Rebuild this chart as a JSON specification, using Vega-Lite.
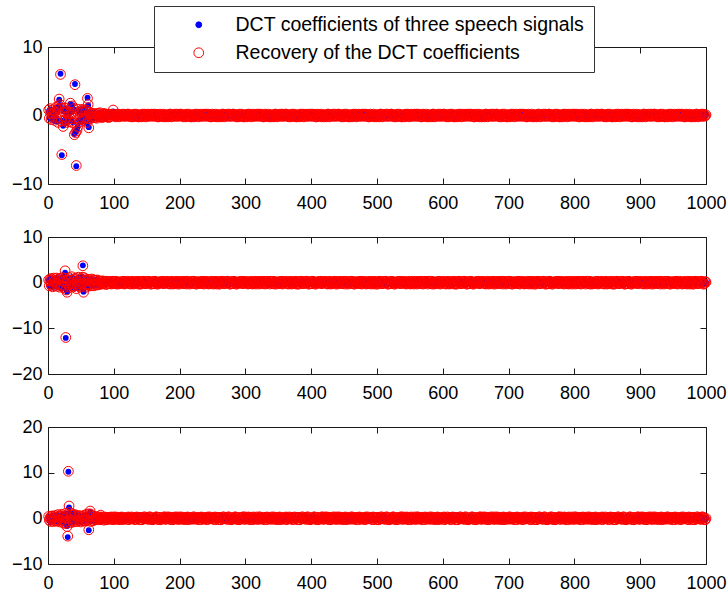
{
"$schema":"https://vega.github.io/schema/vega-lite/v6.json",
"background":"white",
"padding":{"left":10,"top":5,"right":0,"bottom":0},
"spacing":53,
"bounds":"flush",
"data":{"format":{"type":"csv","parse":{"x":"number","s1":"number","r1":"number","s2":"number","r2":"number","s3":"number","r3":"number"}},
"values":"x,s1,r1,s2,r2,s3,r3\n1,0.6,0.8,0.5,0.6,0.3,0.4\n2,-0.3,-0.4,-0.8,-0.7,-0.5,-0.4\n3,0.9,1.0,0.3,0.4,0.2,0.1\n4,0.2,0.3,1.0,0.9,-0.8,-0.7\n5,-0.5,-0.6,-0.4,-0.5,0.4,0.5\n6,0.4,0.3,0.7,0.8,-0.3,-0.2\n7,0.7,0.8,-1.0,-0.9,0.6,0.5\n8,-0.2,-0.1,0.2,0.1,-0.6,-0.7\n9,0.3,0.4,0.9,1.0,0.2,0.3\n10,-0.8,-0.7,-0.6,-0.7,-0.4,-0.5\n11,0.5,0.6,0.4,0.5,0.5,0.6\n12,1.1,1.2,-0.3,-0.2,-0.7,-0.6\n13,-0.4,-0.3,1.1,1.0,0.3,0.2\n14,0.8,0.9,-0.9,-0.8,-0.5,-0.6\n15,-0.9,-1.0,0.6,0.7,0.7,0.8\n16,1.3,1.4,-0.2,-0.3,-0.2,-0.3\n17,2.3,2.4,0.8,0.9,0.4,0.5\n18,1.5,1.6,-1.1,-1.0,-0.9,-0.8\n19,6.1,6.0,0.3,0.4,0.6,0.5\n20,-0.7,-0.8,-0.5,-0.6,-0.3,-0.4\n21,-5.8,-5.7,1.2,1.1,0.8,0.9\n22,0.9,1.0,-0.7,-0.8,-0.6,-0.5\n23,-1.5,-1.6,0.5,0.4,0.5,0.4\n24,0.6,0.5,-1.2,-1.1,-1.0,-1.1\n25,-0.9,-0.8,0.9,1.0,0.7,0.6\n26,1.0,1.1,2.2,2.6,-0.8,-0.9\n27,-0.5,-0.6,-12.1,-12.0,1.0,1.1\n28,0.3,0.4,-1.5,-1.6,-1.2,-1.1\n29,-1.1,-1.0,-2.0,-2.1,-1.7,-1.8\n30,0.7,0.6,0.8,0.7,-4.1,-3.9\n31,-0.4,-0.5,-0.4,-0.5,10.2,10.3\n32,0.2,0.3,1.0,1.1,2.4,2.7\n33,-0.8,-0.9,-0.9,-1.0,1.2,1.3\n34,1.7,1.8,0.6,0.5,-0.9,-1.0\n35,-0.6,-0.5,-0.3,-0.2,0.8,0.7\n36,0.5,0.4,1.2,1.3,-0.5,-0.6\n37,1.5,1.4,-0.6,-0.7,1.1,1.0\n38,-1.0,-1.1,0.4,0.5,-0.7,-0.8\n39,0.9,1.0,-1.0,-0.9,0.6,0.7\n40,-2.7,-2.8,0.7,0.8,-0.4,-0.3\n41,4.6,4.5,-0.5,-0.4,0.9,0.8\n42,-2.4,-2.5,0.9,1.0,-0.6,-0.7\n43,-7.4,-7.3,-1.2,-1.3,0.5,0.6\n44,-2.1,-2.2,0.3,0.2,-0.8,-0.7\n45,-1.6,-1.7,-0.8,-0.7,0.3,0.4\n46,0.8,0.9,1.1,1.2,-0.5,-0.4\n47,-0.7,-0.6,-0.2,-0.3,0.7,0.6\n48,0.4,0.5,0.6,0.7,-0.3,-0.4\n49,-1.0,-0.9,-1.1,-1.0,0.4,0.5\n50,0.6,0.7,0.8,0.9,-0.9,-0.8\n51,-0.3,-0.4,-0.4,-0.3,0.2,0.3\n52,1.0,0.9,1.3,1.2,-0.6,-0.5\n53,-0.8,-0.7,3.8,3.7,0.5,0.4\n54,0.5,0.6,-2.0,-2.1,-0.4,-0.5\n55,-0.5,-0.4,1.0,1.1,0.6,0.7\n56,0.9,0.8,-0.7,-0.6,-0.7,-0.6\n57,-0.2,-0.3,0.5,0.6,0.3,0.2\n58,0.7,0.8,-0.9,-1.0,-0.5,-0.6\n59,-1.1,-1.0,0.3,0.4,0.8,0.9\n60,2.6,2.5,-0.6,-0.5,-0.4,-0.3\n61,1.5,1.6,0.8,0.7,0.6,0.5\n62,-1.7,-1.8,-0.4,-0.5,-2.6,-2.5\n63,0.4,0.5,0.6,0.7,0.9,1.0\n64,-0.6,-0.5,-0.8,-0.7,1.4,1.6\n65,0.3,0.2,0.4,0.3,-0.6,-0.7\n66,-0.4,-0.3,-0.5,-0.6,0.7,0.8\n67,0.2,0.3,0.7,0.8,-0.5,-0.4\n68,-0.3,-0.2,-0.3,-0.2,0.4,0.5\n69,0.4,0.3,0.5,0.6,-0.6,-0.5\n70,-0.2,-0.3,-0.6,-0.7,0.5,0.4\n71,0.3,0.2,0.4,0.5,-0.3,-0.2\n72,-0.4,-0.3,-0.5,-0.4,0.3,0.2\n73,0.1,0.2,0.6,0.5,-0.2,-0.3\n74,-0.3,-0.4,-0.3,-0.4,0.3,0.4\n75,0.2,0.3,0.5,0.6,-0.4,-0.3\n76,-0.2,-0.1,-0.4,-0.5,0.2,0.1\n77,0.4,0.3,0.3,0.4,-0.3,-0.2\n78,-0.1,-0.2,-0.5,-0.4,0.4,0.3\n79,0.3,0.4,0.4,0.3,-0.2,-0.3\n80,-0.3,-0.2,-0.3,-0.2,0.6,0.7\n81,0.2,0.1,0.3,0.2,-0.3,-0.2\n82,-0.2,-0.3,-0.2,-0.3,0.2,0.3\n83,0.3,0.2,0.3,0.4,-0.2,-0.1\n84,-0.1,-0.2,-0.3,-0.2,0.3,0.2\n85,0.2,0.3,0.2,0.3,-0.3,-0.4\n86,-0.3,-0.2,-0.2,-0.1,0.2,0.3\n87,0.1,0.2,0.3,0.2,-0.1,-0.2\n88,-0.2,-0.1,-0.3,-0.4,0.3,0.2\n89,0.3,0.2,0.2,0.3,-0.2,-0.3\n90,-0.1,-0.2,-0.2,-0.3,0.2,0.1\n91,0.2,0.1,0.3,0.2,-0.3,-0.2\n92,-0.2,-0.3,-0.1,-0.2,0.1,0.2\n93,0.1,0.2,0.2,0.3,-0.2,-0.1\n94,-0.1,-0.2,-0.3,-0.2,0.3,0.2\n95,0.2,0.1,0.2,0.1,-0.1,-0.2\n96,-0.2,-0.1,-0.2,-0.3,0.2,0.3\n97,0.1,0.2,0.1,0.2,-0.3,-0.2\n98,-0.1,0,-0.2,-0.1,0.1,0.2\n99,0.6,0.8,0.2,0.3,-0.2,-0.3\n100,0.1,0.1,0.3,0.3,0.3,0.3\n102,-0.1,-0.1,-0.1,-0.1,0,0\n104,0,0,-0.3,-0.3,-0.2,-0.2\n106,0.2,0.2,0.2,0.2,0.2,0.2\n108,-0.2,-0.2,0.1,0.1,-0.3,-0.3\n110,0.1,0.1,-0.2,-0.2,0.1,0.1\n112,0,0,0,0,0.3,0.3\n114,-0.1,-0.1,0.3,0.3,-0.1,-0.1\n116,0.2,0.2,-0.3,-0.3,-0.2,-0.2\n118,-0.1,-0.1,0.1,0.1,0,0\n120,-0.1,-0.1,0,0,-0.2,-0.2\n122,0.2,0.2,0.2,0.2,0.3,0.3\n124,0.1,0.1,-0.2,-0.2,0.1,0.1\n126,-0.2,-0.2,0.1,0.1,-0.1,-0.1\n128,0,0,0.3,0.3,0,0\n130,0.1,0.1,-0.3,-0.3,0.2,0.2\n132,-0.1,-0.1,0.2,0.2,-0.3,-0.3\n134,0.2,0.2,-0.1,-0.1,0.2,0.2\n136,0,0,0,0,0,0\n138,-0.2,-0.2,0.3,0.3,0.1,0.1\n140,0,0,-0.3,-0.3,0.2,0.2\n142,-0.2,-0.2,0.1,0.1,-0.3,-0.3\n144,0.2,0.2,0.3,0.3,0,0\n146,0.1,0.1,-0.1,-0.1,0.3,0.3\n148,-0.1,-0.1,-0.2,-0.2,-0.1,-0.1\n150,0,0,0.2,0.2,0.1,0.1\n152,0.2,0.2,0.3,0.3,-0.2,-0.2\n154,-0.1,-0.1,0,0,0.3,0.3\n156,0.1,0.1,-0.3,-0.3,0.1,0.1\n158,0,0,0.2,0.2,-0.3,-0.3\n160,0.2,0.2,-0.2,-0.2,-0.1,-0.1\n162,0,0,0.3,0.3,0.1,0.1\n164,-0.1,-0.1,0.1,0.1,0.3,0.3\n166,0.1,0.1,-0.3,-0.3,-0.2,-0.2\n168,-0.2,-0.2,0,0,0.2,0.2\n170,0.2,0.2,0.2,0.2,-0.3,-0.3\n172,-0.1,-0.1,-0.1,-0.1,0,0\n174,0,0,0.3,0.3,0.1,0.1\n176,-0.2,-0.2,-0.2,-0.2,0.3,0.3\n178,0.1,0.1,0.1,0.1,-0.2,-0.2\n180,0.1,0.1,0,0,-0.1,-0.1\n182,-0.1,-0.1,0.2,0.2,0.1,0.1\n184,0,0,-0.2,-0.2,0.3,0.3\n186,0.2,0.2,0.1,0.1,-0.2,-0.2\n188,-0.2,-0.2,0.3,0.3,0.2,0.2\n190,0.1,0.1,-0.3,-0.3,-0.3,-0.3\n192,0,0,0.2,0.2,0,0\n194,-0.1,-0.1,-0.1,-0.1,0.1,0.1\n196,0.2,0.2,0,0,0.3,0.3\n198,-0.1,-0.1,0.3,0.3,-0.2,-0.2\n200,-0.1,-0.1,-0.3,-0.3,0.3,0.3\n202,0.2,0.2,0.1,0.1,0,0\n204,0.1,0.1,0.3,0.3,-0.2,-0.2\n206,-0.2,-0.2,-0.1,-0.1,0.2,0.2\n208,0,0,-0.2,-0.2,-0.3,-0.3\n210,0.1,0.1,0.2,0.2,0.1,0.1\n212,-0.1,-0.1,0.3,0.3,0.3,0.3\n214,0.2,0.2,0,0,-0.1,-0.1\n216,0,0,-0.3,-0.3,-0.2,-0.2\n218,-0.2,-0.2,0.2,0.2,0,0\n220,0,0,-0.2,-0.2,-0.2,-0.2\n222,-0.2,-0.2,0.3,0.3,0.3,0.3\n224,0.2,0.2,0.1,0.1,0.1,0.1\n226,0.1,0.1,-0.3,-0.3,-0.1,-0.1\n228,-0.1,-0.1,0,0,0,0\n230,0,0,0.2,0.2,0.2,0.2\n232,0.2,0.2,-0.1,-0.1,-0.3,-0.3\n234,-0.1,-0.1,0.3,0.3,0.2,0.2\n236,0.1,0.1,-0.2,-0.2,0,0\n238,0,0,0.1,0.1,0.1,0.1\n240,0.2,0.2,0.3,0.3,0.2,0.2\n242,0,0,-0.1,-0.1,-0.3,-0.3\n244,-0.1,-0.1,-0.3,-0.3,0,0\n246,0.1,0.1,0.2,0.2,0.3,0.3\n248,-0.2,-0.2,0.1,0.1,-0.1,-0.1\n250,0.2,0.2,-0.2,-0.2,0.1,0.1\n252,-0.1,-0.1,0,0,-0.2,-0.2\n254,0,0,0.3,0.3,0.3,0.3\n256,-0.2,-0.2,-0.3,-0.3,0.1,0.1\n258,0.1,0.1,0.1,0.1,-0.3,-0.3\n260,0.1,0.1,-0.3,-0.3,0.2,0.2\n262,-0.1,-0.1,0.1,0.1,-0.3,-0.3\n264,0,0,0.3,0.3,0,0\n266,0.2,0.2,-0.1,-0.1,0.3,0.3\n268,-0.2,-0.2,-0.2,-0.2,-0.1,-0.1\n270,0.1,0.1,0.2,0.2,0.1,0.1\n272,0,0,0.3,0.3,-0.2,-0.2\n274,-0.1,-0.1,0,0,0.3,0.3\n276,0.2,0.2,-0.3,-0.3,0.1,0.1\n278,-0.1,-0.1,0.2,0.2,-0.3,-0.3\n280,-0.1,-0.1,-0.2,-0.2,-0.1,-0.1\n282,0.2,0.2,0.3,0.3,0.1,0.1\n284,0.1,0.1,0.1,0.1,0.3,0.3\n286,-0.2,-0.2,-0.3,-0.3,-0.2,-0.2\n288,0,0,0,0,0.2,0.2\n290,0.1,0.1,0.2,0.2,-0.3,-0.3\n292,-0.1,-0.1,-0.1,-0.1,0,0\n294,0.2,0.2,0.3,0.3,0.1,0.1\n296,0,0,-0.2,-0.2,0.3,0.3\n298,-0.2,-0.2,0.1,0.1,-0.2,-0.2\n300,0,0,0.3,0.3,0.3,0.3\n302,-0.2,-0.2,-0.1,-0.1,0,0\n304,0.2,0.2,-0.3,-0.3,-0.2,-0.2\n306,0.1,0.1,0.2,0.2,0.2,0.2\n308,-0.1,-0.1,0.1,0.1,-0.3,-0.3\n310,0,0,-0.2,-0.2,0.1,0.1\n312,0.2,0.2,0,0,0.3,0.3\n314,-0.1,-0.1,0.3,0.3,-0.1,-0.1\n316,0.1,0.1,-0.3,-0.3,-0.2,-0.2\n318,0,0,0.1,0.1,0,0\n320,0.2,0.2,0,0,-0.2,-0.2\n322,0,0,0.2,0.2,0.3,0.3\n324,-0.1,-0.1,-0.2,-0.2,0.1,0.1\n326,0.1,0.1,0.1,0.1,-0.1,-0.1\n328,-0.2,-0.2,0.3,0.3,0,0\n330,0.2,0.2,-0.3,-0.3,0.2,0.2\n332,-0.1,-0.1,0.2,0.2,-0.3,-0.3\n334,0,0,-0.1,-0.1,0.2,0.2\n336,-0.2,-0.2,0,0,0,0\n338,0.1,0.1,0.3,0.3,0.1,0.1\n340,0.1,0.1,0.3,0.3,0.3,0.3\n342,-0.1,-0.1,-0.1,-0.1,0,0\n344,0,0,-0.3,-0.3,-0.2,-0.2\n346,0.2,0.2,0.2,0.2,0.2,0.2\n348,-0.2,-0.2,0.1,0.1,-0.3,-0.3\n350,0.1,0.1,-0.2,-0.2,0.1,0.1\n352,0,0,0,0,0.3,0.3\n354,-0.1,-0.1,0.3,0.3,-0.1,-0.1\n356,0.2,0.2,-0.3,-0.3,-0.2,-0.2\n358,-0.1,-0.1,0.1,0.1,0,0\n360,-0.1,-0.1,0,0,-0.2,-0.2\n362,0.2,0.2,0.2,0.2,0.3,0.3\n364,0.1,0.1,-0.2,-0.2,0.1,0.1\n366,-0.2,-0.2,0.1,0.1,-0.1,-0.1\n368,0,0,0.3,0.3,0,0\n370,0.1,0.1,-0.3,-0.3,0.2,0.2\n372,-0.1,-0.1,0.2,0.2,-0.3,-0.3\n374,0.2,0.2,-0.1,-0.1,0.2,0.2\n376,0,0,0,0,0,0\n378,-0.2,-0.2,0.3,0.3,0.1,0.1\n380,0,0,-0.3,-0.3,0.2,0.2\n382,-0.2,-0.2,0.1,0.1,-0.3,-0.3\n384,0.2,0.2,0.3,0.3,0,0\n386,0.1,0.1,-0.1,-0.1,0.3,0.3\n388,-0.1,-0.1,-0.2,-0.2,-0.1,-0.1\n390,0,0,0.2,0.2,0.1,0.1\n392,0.2,0.2,0.3,0.3,-0.2,-0.2\n394,-0.1,-0.1,0,0,0.3,0.3\n396,0.1,0.1,-0.3,-0.3,0.1,0.1\n398,0,0,0.2,0.2,-0.3,-0.3\n400,0.2,0.2,-0.2,-0.2,-0.1,-0.1\n402,0,0,0.3,0.3,0.1,0.1\n404,-0.1,-0.1,0.1,0.1,0.3,0.3\n406,0.1,0.1,-0.3,-0.3,-0.2,-0.2\n408,-0.2,-0.2,0,0,0.2,0.2\n410,0.2,0.2,0.2,0.2,-0.3,-0.3\n412,-0.1,-0.1,-0.1,-0.1,0,0\n414,0,0,0.3,0.3,0.1,0.1\n416,-0.2,-0.2,-0.2,-0.2,0.3,0.3\n418,0.1,0.1,0.1,0.1,-0.2,-0.2\n420,0.1,0.1,0,0,-0.1,-0.1\n422,-0.1,-0.1,0.2,0.2,0.1,0.1\n424,0,0,-0.2,-0.2,0.3,0.3\n426,0.2,0.2,0.1,0.1,-0.2,-0.2\n428,-0.2,-0.2,0.3,0.3,0.2,0.2\n430,0.1,0.1,-0.3,-0.3,-0.3,-0.3\n432,0,0,0.2,0.2,0,0\n434,-0.1,-0.1,-0.1,-0.1,0.1,0.1\n436,0.2,0.2,0,0,0.3,0.3\n438,-0.1,-0.1,0.3,0.3,-0.2,-0.2\n440,-0.1,-0.1,-0.3,-0.3,0.3,0.3\n442,0.2,0.2,0.1,0.1,0,0\n444,0.1,0.1,0.3,0.3,-0.2,-0.2\n446,-0.2,-0.2,-0.1,-0.1,0.2,0.2\n448,0,0,-0.2,-0.2,-0.3,-0.3\n450,0.1,0.1,0.2,0.2,0.1,0.1\n452,-0.1,-0.1,0.3,0.3,0.3,0.3\n454,0.2,0.2,0,0,-0.1,-0.1\n456,0,0,-0.3,-0.3,-0.2,-0.2\n458,-0.2,-0.2,0.2,0.2,0,0\n460,0,0,-0.2,-0.2,-0.2,-0.2\n462,-0.2,-0.2,0.3,0.3,0.3,0.3\n464,0.2,0.2,0.1,0.1,0.1,0.1\n466,0.1,0.1,-0.3,-0.3,-0.1,-0.1\n468,-0.1,-0.1,0,0,0,0\n470,0,0,0.2,0.2,0.2,0.2\n472,0.2,0.2,-0.1,-0.1,-0.3,-0.3\n474,-0.1,-0.1,0.3,0.3,0.2,0.2\n476,0.1,0.1,-0.2,-0.2,0,0\n478,0,0,0.1,0.1,0.1,0.1\n480,0.2,0.2,0.3,0.3,0.2,0.2\n482,0,0,-0.1,-0.1,-0.3,-0.3\n484,-0.1,-0.1,-0.3,-0.3,0,0\n486,0.1,0.1,0.2,0.2,0.3,0.3\n488,-0.2,-0.2,0.1,0.1,-0.1,-0.1\n490,0.2,0.2,-0.2,-0.2,0.1,0.1\n492,-0.1,-0.1,0,0,-0.2,-0.2\n494,0,0,0.3,0.3,0.3,0.3\n496,-0.2,-0.2,-0.3,-0.3,0.1,0.1\n498,0.1,0.1,0.1,0.1,-0.3,-0.3\n500,0.1,0.1,-0.3,-0.3,0.2,0.2\n502,-0.1,-0.1,0.1,0.1,-0.3,-0.3\n504,0,0,0.3,0.3,0,0\n506,0.2,0.2,-0.1,-0.1,0.3,0.3\n508,-0.2,-0.2,-0.2,-0.2,-0.1,-0.1\n510,0.1,0.1,0.2,0.2,0.1,0.1\n512,0,0,0.3,0.3,-0.2,-0.2\n514,-0.1,-0.1,0,0,0.3,0.3\n516,0.2,0.2,-0.3,-0.3,0.1,0.1\n518,-0.1,-0.1,0.2,0.2,-0.3,-0.3\n520,-0.1,-0.1,-0.2,-0.2,-0.1,-0.1\n522,0.2,0.2,0.3,0.3,0.1,0.1\n524,0.1,0.1,0.1,0.1,0.3,0.3\n526,-0.2,-0.2,-0.3,-0.3,-0.2,-0.2\n528,0,0,0,0,0.2,0.2\n530,0.1,0.1,0.2,0.2,-0.3,-0.3\n532,-0.1,-0.1,-0.1,-0.1,0,0\n534,0.2,0.2,0.3,0.3,0.1,0.1\n536,0,0,-0.2,-0.2,0.3,0.3\n538,-0.2,-0.2,0.1,0.1,-0.2,-0.2\n540,0,0,0.3,0.3,0.3,0.3\n542,-0.2,-0.2,-0.1,-0.1,0,0\n544,0.2,0.2,-0.3,-0.3,-0.2,-0.2\n546,0.1,0.1,0.2,0.2,0.2,0.2\n548,-0.1,-0.1,0.1,0.1,-0.3,-0.3\n550,0,0,-0.2,-0.2,0.1,0.1\n552,0.2,0.2,0,0,0.3,0.3\n554,-0.1,-0.1,0.3,0.3,-0.1,-0.1\n556,0.1,0.1,-0.3,-0.3,-0.2,-0.2\n558,0,0,0.1,0.1,0,0\n560,0.2,0.2,0,0,-0.2,-0.2\n562,0,0,0.2,0.2,0.3,0.3\n564,-0.1,-0.1,-0.2,-0.2,0.1,0.1\n566,0.1,0.1,0.1,0.1,-0.1,-0.1\n568,-0.2,-0.2,0.3,0.3,0,0\n570,0.2,0.2,-0.3,-0.3,0.2,0.2\n572,-0.1,-0.1,0.2,0.2,-0.3,-0.3\n574,0,0,-0.1,-0.1,0.2,0.2\n576,-0.2,-0.2,0,0,0,0\n578,0.1,0.1,0.3,0.3,0.1,0.1\n580,0.1,0.1,0.3,0.3,0.3,0.3\n582,-0.1,-0.1,-0.1,-0.1,0,0\n584,0,0,-0.3,-0.3,-0.2,-0.2\n586,0.2,0.2,0.2,0.2,0.2,0.2\n588,-0.2,-0.2,0.1,0.1,-0.3,-0.3\n590,0.1,0.1,-0.2,-0.2,0.1,0.1\n592,0,0,0,0,0.3,0.3\n594,-0.1,-0.1,0.3,0.3,-0.1,-0.1\n596,0.2,0.2,-0.3,-0.3,-0.2,-0.2\n598,-0.1,-0.1,0.1,0.1,0,0\n600,-0.1,-0.1,0,0,-0.2,-0.2\n602,0.2,0.2,0.2,0.2,0.3,0.3\n604,0.1,0.1,-0.2,-0.2,0.1,0.1\n606,-0.2,-0.2,0.1,0.1,-0.1,-0.1\n608,0,0,0.3,0.3,0,0\n610,0.1,0.1,-0.3,-0.3,0.2,0.2\n612,-0.1,-0.1,0.2,0.2,-0.3,-0.3\n614,0.2,0.2,-0.1,-0.1,0.2,0.2\n616,0,0,0,0,0,0\n618,-0.2,-0.2,0.3,0.3,0.1,0.1\n620,0,0,-0.3,-0.3,0.2,0.2\n622,-0.2,-0.2,0.1,0.1,-0.3,-0.3\n624,0.2,0.2,0.3,0.3,0,0\n626,0.1,0.1,-0.1,-0.1,0.3,0.3\n628,-0.1,-0.1,-0.2,-0.2,-0.1,-0.1\n630,0,0,0.2,0.2,0.1,0.1\n632,0.2,0.2,0.3,0.3,-0.2,-0.2\n634,-0.1,-0.1,0,0,0.3,0.3\n636,0.1,0.1,-0.3,-0.3,0.1,0.1\n638,0,0,0.2,0.2,-0.3,-0.3\n640,0.2,0.2,-0.2,-0.2,-0.1,-0.1\n642,0,0,0.3,0.3,0.1,0.1\n644,-0.1,-0.1,0.1,0.1,0.3,0.3\n646,0.1,0.1,-0.3,-0.3,-0.2,-0.2\n648,-0.2,-0.2,0,0,0.2,0.2\n650,0.2,0.2,0.2,0.2,-0.3,-0.3\n652,-0.1,-0.1,-0.1,-0.1,0,0\n654,0,0,0.3,0.3,0.1,0.1\n656,-0.2,-0.2,-0.2,-0.2,0.3,0.3\n658,0.1,0.1,0.1,0.1,-0.2,-0.2\n660,0.1,0.1,0,0,-0.1,-0.1\n662,-0.1,-0.1,0.2,0.2,0.1,0.1\n664,0,0,-0.2,-0.2,0.3,0.3\n666,0.2,0.2,0.1,0.1,-0.2,-0.2\n668,-0.2,-0.2,0.3,0.3,0.2,0.2\n670,0.1,0.1,-0.3,-0.3,-0.3,-0.3\n672,0,0,0.2,0.2,0,0\n674,-0.1,-0.1,-0.1,-0.1,0.1,0.1\n676,0.2,0.2,0,0,0.3,0.3\n678,-0.1,-0.1,0.3,0.3,-0.2,-0.2\n680,-0.1,-0.1,-0.3,-0.3,0.3,0.3\n682,0.2,0.2,0.1,0.1,0,0\n684,0.1,0.1,0.3,0.3,-0.2,-0.2\n686,-0.2,-0.2,-0.1,-0.1,0.2,0.2\n688,0,0,-0.2,-0.2,-0.3,-0.3\n690,0.1,0.1,0.2,0.2,0.1,0.1\n692,-0.1,-0.1,0.3,0.3,0.3,0.3\n694,0.2,0.2,0,0,-0.1,-0.1\n696,0,0,-0.3,-0.3,-0.2,-0.2\n698,-0.2,-0.2,0.2,0.2,0,0\n700,0,0,-0.2,-0.2,-0.2,-0.2\n702,-0.2,-0.2,0.3,0.3,0.3,0.3\n704,0.2,0.2,0.1,0.1,0.1,0.1\n706,0.1,0.1,-0.3,-0.3,-0.1,-0.1\n708,-0.1,-0.1,0,0,0,0\n710,0,0,0.2,0.2,0.2,0.2\n712,0.2,0.2,-0.1,-0.1,-0.3,-0.3\n714,-0.1,-0.1,0.3,0.3,0.2,0.2\n716,0.1,0.1,-0.2,-0.2,0,0\n718,0,0,0.1,0.1,0.1,0.1\n720,0.2,0.2,0.3,0.3,0.2,0.2\n722,0,0,-0.1,-0.1,-0.3,-0.3\n724,-0.1,-0.1,-0.3,-0.3,0,0\n726,0.1,0.1,0.2,0.2,0.3,0.3\n728,-0.2,-0.2,0.1,0.1,-0.1,-0.1\n730,0.2,0.2,-0.2,-0.2,0.1,0.1\n732,-0.1,-0.1,0,0,-0.2,-0.2\n734,0,0,0.3,0.3,0.3,0.3\n736,-0.2,-0.2,-0.3,-0.3,0.1,0.1\n738,0.1,0.1,0.1,0.1,-0.3,-0.3\n740,0.1,0.1,-0.3,-0.3,0.2,0.2\n742,-0.1,-0.1,0.1,0.1,-0.3,-0.3\n744,0,0,0.3,0.3,0,0\n746,0.2,0.2,-0.1,-0.1,0.3,0.3\n748,-0.2,-0.2,-0.2,-0.2,-0.1,-0.1\n750,0.1,0.1,0.2,0.2,0.1,0.1\n752,0,0,0.3,0.3,-0.2,-0.2\n754,-0.1,-0.1,0,0,0.3,0.3\n756,0.2,0.2,-0.3,-0.3,0.1,0.1\n758,-0.1,-0.1,0.2,0.2,-0.3,-0.3\n760,-0.1,-0.1,-0.2,-0.2,-0.1,-0.1\n762,0.2,0.2,0.3,0.3,0.1,0.1\n764,0.1,0.1,0.1,0.1,0.3,0.3\n766,-0.2,-0.2,-0.3,-0.3,-0.2,-0.2\n768,0,0,0,0,0.2,0.2\n770,0.1,0.1,0.2,0.2,-0.3,-0.3\n772,-0.1,-0.1,-0.1,-0.1,0,0\n774,0.2,0.2,0.3,0.3,0.1,0.1\n776,0,0,-0.2,-0.2,0.3,0.3\n778,-0.2,-0.2,0.1,0.1,-0.2,-0.2\n780,0,0,0.3,0.3,0.3,0.3\n782,-0.2,-0.2,-0.1,-0.1,0,0\n784,0.2,0.2,-0.3,-0.3,-0.2,-0.2\n786,0.1,0.1,0.2,0.2,0.2,0.2\n788,-0.1,-0.1,0.1,0.1,-0.3,-0.3\n790,0,0,-0.2,-0.2,0.1,0.1\n792,0.2,0.2,0,0,0.3,0.3\n794,-0.1,-0.1,0.3,0.3,-0.1,-0.1\n796,0.1,0.1,-0.3,-0.3,-0.2,-0.2\n798,0,0,0.1,0.1,0,0\n800,0.2,0.2,0,0,-0.2,-0.2\n802,0,0,0.2,0.2,0.3,0.3\n804,-0.1,-0.1,-0.2,-0.2,0.1,0.1\n806,0.1,0.1,0.1,0.1,-0.1,-0.1\n808,-0.2,-0.2,0.3,0.3,0,0\n810,0.2,0.2,-0.3,-0.3,0.2,0.2\n812,-0.1,-0.1,0.2,0.2,-0.3,-0.3\n814,0,0,-0.1,-0.1,0.2,0.2\n816,-0.2,-0.2,0,0,0,0\n818,0.1,0.1,0.3,0.3,0.1,0.1\n820,0.1,0.1,0.3,0.3,0.3,0.3\n822,-0.1,-0.1,-0.1,-0.1,0,0\n824,0,0,-0.3,-0.3,-0.2,-0.2\n826,0.2,0.2,0.2,0.2,0.2,0.2\n828,-0.2,-0.2,0.1,0.1,-0.3,-0.3\n830,0.1,0.1,-0.2,-0.2,0.1,0.1\n832,0,0,0,0,0.3,0.3\n834,-0.1,-0.1,0.3,0.3,-0.1,-0.1\n836,0.2,0.2,-0.3,-0.3,-0.2,-0.2\n838,-0.1,-0.1,0.1,0.1,0,0\n840,-0.1,-0.1,0,0,-0.2,-0.2\n842,0.2,0.2,0.2,0.2,0.3,0.3\n844,0.1,0.1,-0.2,-0.2,0.1,0.1\n846,-0.2,-0.2,0.1,0.1,-0.1,-0.1\n848,0,0,0.3,0.3,0,0\n850,0.1,0.1,-0.3,-0.3,0.2,0.2\n852,-0.1,-0.1,0.2,0.2,-0.3,-0.3\n854,0.2,0.2,-0.1,-0.1,0.2,0.2\n856,0,0,0,0,0,0\n858,-0.2,-0.2,0.3,0.3,0.1,0.1\n860,0,0,-0.3,-0.3,0.2,0.2\n862,-0.2,-0.2,0.1,0.1,-0.3,-0.3\n864,0.2,0.2,0.3,0.3,0,0\n866,0.1,0.1,-0.1,-0.1,0.3,0.3\n868,-0.1,-0.1,-0.2,-0.2,-0.1,-0.1\n870,0,0,0.2,0.2,0.1,0.1\n872,0.2,0.2,0.3,0.3,-0.2,-0.2\n874,-0.1,-0.1,0,0,0.3,0.3\n876,0.1,0.1,-0.3,-0.3,0.1,0.1\n878,0,0,0.2,0.2,-0.3,-0.3\n880,0.2,0.2,-0.2,-0.2,-0.1,-0.1\n882,0,0,0.3,0.3,0.1,0.1\n884,-0.1,-0.1,0.1,0.1,0.3,0.3\n886,0.1,0.1,-0.3,-0.3,-0.2,-0.2\n888,-0.2,-0.2,0,0,0.2,0.2\n890,0.2,0.2,0.2,0.2,-0.3,-0.3\n892,-0.1,-0.1,-0.1,-0.1,0,0\n894,0,0,0.3,0.3,0.1,0.1\n896,-0.2,-0.2,-0.2,-0.2,0.3,0.3\n898,0.1,0.1,0.1,0.1,-0.2,-0.2\n900,0.1,0.1,0,0,-0.1,-0.1\n902,-0.1,-0.1,0.2,0.2,0.1,0.1\n904,0,0,-0.2,-0.2,0.3,0.3\n906,0.2,0.2,0.1,0.1,-0.2,-0.2\n908,-0.2,-0.2,0.3,0.3,0.2,0.2\n910,0.1,0.1,-0.3,-0.3,-0.3,-0.3\n912,0,0,0.2,0.2,0,0\n914,-0.1,-0.1,-0.1,-0.1,0.1,0.1\n916,0.2,0.2,0,0,0.3,0.3\n918,-0.1,-0.1,0.3,0.3,-0.2,-0.2\n920,-0.1,-0.1,-0.3,-0.3,0.3,0.3\n922,0.2,0.2,0.1,0.1,0,0\n924,0.1,0.1,0.3,0.3,-0.2,-0.2\n926,-0.2,-0.2,-0.1,-0.1,0.2,0.2\n928,0,0,-0.2,-0.2,-0.3,-0.3\n930,0.1,0.1,0.2,0.2,0.1,0.1\n932,-0.1,-0.1,0.3,0.3,0.3,0.3\n934,0.2,0.2,0,0,-0.1,-0.1\n936,0,0,-0.3,-0.3,-0.2,-0.2\n938,-0.2,-0.2,0.2,0.2,0,0\n940,0,0,-0.2,-0.2,-0.2,-0.2\n942,-0.2,-0.2,0.3,0.3,0.3,0.3\n944,0.2,0.2,0.1,0.1,0.1,0.1\n946,0.1,0.1,-0.3,-0.3,-0.1,-0.1\n948,-0.1,-0.1,0,0,0,0\n950,0,0,0.2,0.2,0.2,0.2\n952,0.2,0.2,-0.1,-0.1,-0.3,-0.3\n954,-0.1,-0.1,0.3,0.3,0.2,0.2\n956,0.1,0.1,-0.2,-0.2,0,0\n958,0,0,0.1,0.1,0.1,0.1\n960,0.2,0.2,0.3,0.3,0.2,0.2\n962,0,0,-0.1,-0.1,-0.3,-0.3\n964,-0.1,-0.1,-0.3,-0.3,0,0\n966,0.1,0.1,0.2,0.2,0.3,0.3\n968,-0.2,-0.2,0.1,0.1,-0.1,-0.1\n970,0.2,0.2,-0.2,-0.2,0.1,0.1\n972,-0.1,-0.1,0,0,-0.2,-0.2\n974,0,0,0.3,0.3,0.3,0.3\n976,-0.2,-0.2,-0.3,-0.3,0.1,0.1\n978,0.1,0.1,0.1,0.1,-0.3,-0.3\n980,0.1,0.1,-0.3,-0.3,0.2,0.2\n982,-0.1,-0.1,0.1,0.1,-0.3,-0.3\n984,0,0,0.3,0.3,0,0\n986,0.2,0.2,-0.1,-0.1,0.3,0.3\n988,-0.2,-0.2,-0.2,-0.2,-0.1,-0.1\n990,0.1,0.1,0.2,0.2,0.1,0.1\n992,0,0,0.3,0.3,-0.2,-0.2\n994,-0.1,-0.1,0,0,0.3,0.3\n996,0.2,0.2,-0.3,-0.3,0.1,0.1\n998,-0.1,-0.1,0.2,0.2,-0.3,-0.3\n1000,0.1,0.1,0.1,0.1,0,0\n101,0,0,-0.2,-0.2,-0.2,-0.2\n103,-0.2,-0.2,0.3,0.3,0.3,0.3\n105,0.2,0.2,0.1,0.1,0.1,0.1\n107,0.1,0.1,-0.3,-0.3,-0.1,-0.1\n109,-0.1,-0.1,0,0,0,0\n111,0,0,0.2,0.2,0.2,0.2\n113,0.2,0.2,-0.1,-0.1,-0.3,-0.3\n115,-0.1,-0.1,0.3,0.3,0.2,0.2\n117,0.1,0.1,-0.2,-0.2,0,0\n119,0,0,0.1,0.1,0.1,0.1\n121,0.2,0.2,0.3,0.3,0.2,0.2\n123,0,0,-0.1,-0.1,-0.3,-0.3\n125,-0.1,-0.1,-0.3,-0.3,0,0\n127,0.1,0.1,0.2,0.2,0.3,0.3\n129,-0.2,-0.2,0.1,0.1,-0.1,-0.1\n131,0.2,0.2,-0.2,-0.2,0.1,0.1\n133,-0.1,-0.1,0,0,-0.2,-0.2\n135,0,0,0.3,0.3,0.3,0.3\n137,-0.2,-0.2,-0.3,-0.3,0.1,0.1\n139,0.1,0.1,0.1,0.1,-0.3,-0.3\n141,0.1,0.1,-0.3,-0.3,0.2,0.2\n143,-0.1,-0.1,0.1,0.1,-0.3,-0.3\n145,0,0,0.3,0.3,0,0\n147,0.2,0.2,-0.1,-0.1,0.3,0.3\n149,-0.2,-0.2,-0.2,-0.2,-0.1,-0.1\n151,0.1,0.1,0.2,0.2,0.1,0.1\n153,0,0,0.3,0.3,-0.2,-0.2\n155,-0.1,-0.1,0,0,0.3,0.3\n157,0.2,0.2,-0.3,-0.3,0.1,0.1\n159,-0.1,-0.1,0.2,0.2,-0.3,-0.3\n161,-0.1,-0.1,-0.2,-0.2,-0.1,-0.1\n163,0.2,0.2,0.3,0.3,0.1,0.1\n165,0.1,0.1,0.1,0.1,0.3,0.3\n167,-0.2,-0.2,-0.3,-0.3,-0.2,-0.2\n169,0,0,0,0,0.2,0.2\n171,0.1,0.1,0.2,0.2,-0.3,-0.3\n173,-0.1,-0.1,-0.1,-0.1,0,0\n175,0.2,0.2,0.3,0.3,0.1,0.1\n177,0,0,-0.2,-0.2,0.3,0.3\n179,-0.2,-0.2,0.1,0.1,-0.2,-0.2\n181,0,0,0.3,0.3,0.3,0.3\n183,-0.2,-0.2,-0.1,-0.1,0,0\n185,0.2,0.2,-0.3,-0.3,-0.2,-0.2\n187,0.1,0.1,0.2,0.2,0.2,0.2\n189,-0.1,-0.1,0.1,0.1,-0.3,-0.3\n191,0,0,-0.2,-0.2,0.1,0.1\n193,0.2,0.2,0,0,0.3,0.3\n195,-0.1,-0.1,0.3,0.3,-0.1,-0.1\n197,0.1,0.1,-0.3,-0.3,-0.2,-0.2\n199,0,0,0.1,0.1,0,0\n201,0.2,0.2,0,0,-0.2,-0.2\n203,0,0,0.2,0.2,0.3,0.3\n205,-0.1,-0.1,-0.2,-0.2,0.1,0.1\n207,0.1,0.1,0.1,0.1,-0.1,-0.1\n209,-0.2,-0.2,0.3,0.3,0,0\n211,0.2,0.2,-0.3,-0.3,0.2,0.2\n213,-0.1,-0.1,0.2,0.2,-0.3,-0.3\n215,0,0,-0.1,-0.1,0.2,0.2\n217,-0.2,-0.2,0,0,0,0\n219,0.1,0.1,0.3,0.3,0.1,0.1\n221,0.1,0.1,0.3,0.3,0.3,0.3\n223,-0.1,-0.1,-0.1,-0.1,0,0\n225,0,0,-0.3,-0.3,-0.2,-0.2\n227,0.2,0.2,0.2,0.2,0.2,0.2\n229,-0.2,-0.2,0.1,0.1,-0.3,-0.3\n231,0.1,0.1,-0.2,-0.2,0.1,0.1\n233,0,0,0,0,0.3,0.3\n235,-0.1,-0.1,0.3,0.3,-0.1,-0.1\n237,0.2,0.2,-0.3,-0.3,-0.2,-0.2\n239,-0.1,-0.1,0.1,0.1,0,0\n241,-0.1,-0.1,0,0,-0.2,-0.2\n243,0.2,0.2,0.2,0.2,0.3,0.3\n245,0.1,0.1,-0.2,-0.2,0.1,0.1\n247,-0.2,-0.2,0.1,0.1,-0.1,-0.1\n249,0,0,0.3,0.3,0,0\n251,0.1,0.1,-0.3,-0.3,0.2,0.2\n253,-0.1,-0.1,0.2,0.2,-0.3,-0.3\n255,0.2,0.2,-0.1,-0.1,0.2,0.2\n257,0,0,0,0,0,0\n259,-0.2,-0.2,0.3,0.3,0.1,0.1\n261,0,0,-0.3,-0.3,0.2,0.2\n263,-0.2,-0.2,0.1,0.1,-0.3,-0.3\n265,0.2,0.2,0.3,0.3,0,0\n267,0.1,0.1,-0.1,-0.1,0.3,0.3\n269,-0.1,-0.1,-0.2,-0.2,-0.1,-0.1\n271,0,0,0.2,0.2,0.1,0.1\n273,0.2,0.2,0.3,0.3,-0.2,-0.2\n275,-0.1,-0.1,0,0,0.3,0.3\n277,0.1,0.1,-0.3,-0.3,0.1,0.1\n279,0,0,0.2,0.2,-0.3,-0.3\n281,0.2,0.2,-0.2,-0.2,-0.1,-0.1\n283,0,0,0.3,0.3,0.1,0.1\n285,-0.1,-0.1,0.1,0.1,0.3,0.3\n287,0.1,0.1,-0.3,-0.3,-0.2,-0.2\n289,-0.2,-0.2,0,0,0.2,0.2\n291,0.2,0.2,0.2,0.2,-0.3,-0.3\n293,-0.1,-0.1,-0.1,-0.1,0,0\n295,0,0,0.3,0.3,0.1,0.1\n297,-0.2,-0.2,-0.2,-0.2,0.3,0.3\n299,0.1,0.1,0.1,0.1,-0.2,-0.2\n301,0.1,0.1,0,0,-0.1,-0.1\n303,-0.1,-0.1,0.2,0.2,0.1,0.1\n305,0,0,-0.2,-0.2,0.3,0.3\n307,0.2,0.2,0.1,0.1,-0.2,-0.2\n309,-0.2,-0.2,0.3,0.3,0.2,0.2\n311,0.1,0.1,-0.3,-0.3,-0.3,-0.3\n313,0,0,0.2,0.2,0,0\n315,-0.1,-0.1,-0.1,-0.1,0.1,0.1\n317,0.2,0.2,0,0,0.3,0.3\n319,-0.1,-0.1,0.3,0.3,-0.2,-0.2\n321,-0.1,-0.1,-0.3,-0.3,0.3,0.3\n323,0.2,0.2,0.1,0.1,0,0\n325,0.1,0.1,0.3,0.3,-0.2,-0.2\n327,-0.2,-0.2,-0.1,-0.1,0.2,0.2\n329,0,0,-0.2,-0.2,-0.3,-0.3\n331,0.1,0.1,0.2,0.2,0.1,0.1\n333,-0.1,-0.1,0.3,0.3,0.3,0.3\n335,0.2,0.2,0,0,-0.1,-0.1\n337,0,0,-0.3,-0.3,-0.2,-0.2\n339,-0.2,-0.2,0.2,0.2,0,0\n341,0,0,-0.2,-0.2,-0.2,-0.2\n343,-0.2,-0.2,0.3,0.3,0.3,0.3\n345,0.2,0.2,0.1,0.1,0.1,0.1\n347,0.1,0.1,-0.3,-0.3,-0.1,-0.1\n349,-0.1,-0.1,0,0,0,0\n351,0,0,0.2,0.2,0.2,0.2\n353,0.2,0.2,-0.1,-0.1,-0.3,-0.3\n355,-0.1,-0.1,0.3,0.3,0.2,0.2\n357,0.1,0.1,-0.2,-0.2,0,0\n359,0,0,0.1,0.1,0.1,0.1\n361,0.2,0.2,0.3,0.3,0.2,0.2\n363,0,0,-0.1,-0.1,-0.3,-0.3\n365,-0.1,-0.1,-0.3,-0.3,0,0\n367,0.1,0.1,0.2,0.2,0.3,0.3\n369,-0.2,-0.2,0.1,0.1,-0.1,-0.1\n371,0.2,0.2,-0.2,-0.2,0.1,0.1\n373,-0.1,-0.1,0,0,-0.2,-0.2\n375,0,0,0.3,0.3,0.3,0.3\n377,-0.2,-0.2,-0.3,-0.3,0.1,0.1\n379,0.1,0.1,0.1,0.1,-0.3,-0.3\n381,0.1,0.1,-0.3,-0.3,0.2,0.2\n383,-0.1,-0.1,0.1,0.1,-0.3,-0.3\n385,0,0,0.3,0.3,0,0\n387,0.2,0.2,-0.1,-0.1,0.3,0.3\n389,-0.2,-0.2,-0.2,-0.2,-0.1,-0.1\n391,0.1,0.1,0.2,0.2,0.1,0.1\n393,0,0,0.3,0.3,-0.2,-0.2\n395,-0.1,-0.1,0,0,0.3,0.3\n397,0.2,0.2,-0.3,-0.3,0.1,0.1\n399,-0.1,-0.1,0.2,0.2,-0.3,-0.3\n401,-0.1,-0.1,-0.2,-0.2,-0.1,-0.1\n403,0.2,0.2,0.3,0.3,0.1,0.1\n405,0.1,0.1,0.1,0.1,0.3,0.3\n407,-0.2,-0.2,-0.3,-0.3,-0.2,-0.2\n409,0,0,0,0,0.2,0.2\n411,0.1,0.1,0.2,0.2,-0.3,-0.3\n413,-0.1,-0.1,-0.1,-0.1,0,0\n415,0.2,0.2,0.3,0.3,0.1,0.1\n417,0,0,-0.2,-0.2,0.3,0.3\n419,-0.2,-0.2,0.1,0.1,-0.2,-0.2\n421,0,0,0.3,0.3,0.3,0.3\n423,-0.2,-0.2,-0.1,-0.1,0,0\n425,0.2,0.2,-0.3,-0.3,-0.2,-0.2\n427,0.1,0.1,0.2,0.2,0.2,0.2\n429,-0.1,-0.1,0.1,0.1,-0.3,-0.3\n431,0,0,-0.2,-0.2,0.1,0.1\n433,0.2,0.2,0,0,0.3,0.3\n435,-0.1,-0.1,0.3,0.3,-0.1,-0.1\n437,0.1,0.1,-0.3,-0.3,-0.2,-0.2\n439,0,0,0.1,0.1,0,0\n441,0.2,0.2,0,0,-0.2,-0.2\n443,0,0,0.2,0.2,0.3,0.3\n445,-0.1,-0.1,-0.2,-0.2,0.1,0.1\n447,0.1,0.1,0.1,0.1,-0.1,-0.1\n449,-0.2,-0.2,0.3,0.3,0,0\n451,0.2,0.2,-0.3,-0.3,0.2,0.2\n453,-0.1,-0.1,0.2,0.2,-0.3,-0.3\n455,0,0,-0.1,-0.1,0.2,0.2\n457,-0.2,-0.2,0,0,0,0\n459,0.1,0.1,0.3,0.3,0.1,0.1\n461,0.1,0.1,0.3,0.3,0.3,0.3\n463,-0.1,-0.1,-0.1,-0.1,0,0\n465,0,0,-0.3,-0.3,-0.2,-0.2\n467,0.2,0.2,0.2,0.2,0.2,0.2\n469,-0.2,-0.2,0.1,0.1,-0.3,-0.3\n471,0.1,0.1,-0.2,-0.2,0.1,0.1\n473,0,0,0,0,0.3,0.3\n475,-0.1,-0.1,0.3,0.3,-0.1,-0.1\n477,0.2,0.2,-0.3,-0.3,-0.2,-0.2\n479,-0.1,-0.1,0.1,0.1,0,0\n481,-0.1,-0.1,0,0,-0.2,-0.2\n483,0.2,0.2,0.2,0.2,0.3,0.3\n485,0.1,0.1,-0.2,-0.2,0.1,0.1\n487,-0.2,-0.2,0.1,0.1,-0.1,-0.1\n489,0,0,0.3,0.3,0,0\n491,0.1,0.1,-0.3,-0.3,0.2,0.2\n493,-0.1,-0.1,0.2,0.2,-0.3,-0.3\n495,0.2,0.2,-0.1,-0.1,0.2,0.2\n497,0,0,0,0,0,0\n499,-0.2,-0.2,0.3,0.3,0.1,0.1\n501,0,0,-0.3,-0.3,0.2,0.2\n503,-0.2,-0.2,0.1,0.1,-0.3,-0.3\n505,0.2,0.2,0.3,0.3,0,0\n507,0.1,0.1,-0.1,-0.1,0.3,0.3\n509,-0.1,-0.1,-0.2,-0.2,-0.1,-0.1\n511,0,0,0.2,0.2,0.1,0.1\n513,0.2,0.2,0.3,0.3,-0.2,-0.2\n515,-0.1,-0.1,0,0,0.3,0.3\n517,0.1,0.1,-0.3,-0.3,0.1,0.1\n519,0,0,0.2,0.2,-0.3,-0.3\n521,0.2,0.2,-0.2,-0.2,-0.1,-0.1\n523,0,0,0.3,0.3,0.1,0.1\n525,-0.1,-0.1,0.1,0.1,0.3,0.3\n527,0.1,0.1,-0.3,-0.3,-0.2,-0.2\n529,-0.2,-0.2,0,0,0.2,0.2\n531,0.2,0.2,0.2,0.2,-0.3,-0.3\n533,-0.1,-0.1,-0.1,-0.1,0,0\n535,0,0,0.3,0.3,0.1,0.1\n537,-0.2,-0.2,-0.2,-0.2,0.3,0.3\n539,0.1,0.1,0.1,0.1,-0.2,-0.2\n541,0.1,0.1,0,0,-0.1,-0.1\n543,-0.1,-0.1,0.2,0.2,0.1,0.1\n545,0,0,-0.2,-0.2,0.3,0.3\n547,0.2,0.2,0.1,0.1,-0.2,-0.2\n549,-0.2,-0.2,0.3,0.3,0.2,0.2\n551,0.1,0.1,-0.3,-0.3,-0.3,-0.3\n553,0,0,0.2,0.2,0,0\n555,-0.1,-0.1,-0.1,-0.1,0.1,0.1\n557,0.2,0.2,0,0,0.3,0.3\n559,-0.1,-0.1,0.3,0.3,-0.2,-0.2\n561,-0.1,-0.1,-0.3,-0.3,0.3,0.3\n563,0.2,0.2,0.1,0.1,0,0\n565,0.1,0.1,0.3,0.3,-0.2,-0.2\n567,-0.2,-0.2,-0.1,-0.1,0.2,0.2\n569,0,0,-0.2,-0.2,-0.3,-0.3\n571,0.1,0.1,0.2,0.2,0.1,0.1\n573,-0.1,-0.1,0.3,0.3,0.3,0.3\n575,0.2,0.2,0,0,-0.1,-0.1\n577,0,0,-0.3,-0.3,-0.2,-0.2\n579,-0.2,-0.2,0.2,0.2,0,0\n581,0,0,-0.2,-0.2,-0.2,-0.2\n583,-0.2,-0.2,0.3,0.3,0.3,0.3\n585,0.2,0.2,0.1,0.1,0.1,0.1\n587,0.1,0.1,-0.3,-0.3,-0.1,-0.1\n589,-0.1,-0.1,0,0,0,0\n591,0,0,0.2,0.2,0.2,0.2\n593,0.2,0.2,-0.1,-0.1,-0.3,-0.3\n595,-0.1,-0.1,0.3,0.3,0.2,0.2\n597,0.1,0.1,-0.2,-0.2,0,0\n599,0,0,0.1,0.1,0.1,0.1\n601,0.2,0.2,0.3,0.3,0.2,0.2\n603,0,0,-0.1,-0.1,-0.3,-0.3\n605,-0.1,-0.1,-0.3,-0.3,0,0\n607,0.1,0.1,0.2,0.2,0.3,0.3\n609,-0.2,-0.2,0.1,0.1,-0.1,-0.1\n611,0.2,0.2,-0.2,-0.2,0.1,0.1\n613,-0.1,-0.1,0,0,-0.2,-0.2\n615,0,0,0.3,0.3,0.3,0.3\n617,-0.2,-0.2,-0.3,-0.3,0.1,0.1\n619,0.1,0.1,0.1,0.1,-0.3,-0.3\n621,0.1,0.1,-0.3,-0.3,0.2,0.2\n623,-0.1,-0.1,0.1,0.1,-0.3,-0.3\n625,0,0,0.3,0.3,0,0\n627,0.2,0.2,-0.1,-0.1,0.3,0.3\n629,-0.2,-0.2,-0.2,-0.2,-0.1,-0.1\n631,0.1,0.1,0.2,0.2,0.1,0.1\n633,0,0,0.3,0.3,-0.2,-0.2\n635,-0.1,-0.1,0,0,0.3,0.3\n637,0.2,0.2,-0.3,-0.3,0.1,0.1\n639,-0.1,-0.1,0.2,0.2,-0.3,-0.3\n641,-0.1,-0.1,-0.2,-0.2,-0.1,-0.1\n643,0.2,0.2,0.3,0.3,0.1,0.1\n645,0.1,0.1,0.1,0.1,0.3,0.3\n647,-0.2,-0.2,-0.3,-0.3,-0.2,-0.2\n649,0,0,0,0,0.2,0.2\n651,0.1,0.1,0.2,0.2,-0.3,-0.3\n653,-0.1,-0.1,-0.1,-0.1,0,0\n655,0.2,0.2,0.3,0.3,0.1,0.1\n657,0,0,-0.2,-0.2,0.3,0.3\n659,-0.2,-0.2,0.1,0.1,-0.2,-0.2\n661,0,0,0.3,0.3,0.3,0.3\n663,-0.2,-0.2,-0.1,-0.1,0,0\n665,0.2,0.2,-0.3,-0.3,-0.2,-0.2\n667,0.1,0.1,0.2,0.2,0.2,0.2\n669,-0.1,-0.1,0.1,0.1,-0.3,-0.3\n671,0,0,-0.2,-0.2,0.1,0.1\n673,0.2,0.2,0,0,0.3,0.3\n675,-0.1,-0.1,0.3,0.3,-0.1,-0.1\n677,0.1,0.1,-0.3,-0.3,-0.2,-0.2\n679,0,0,0.1,0.1,0,0\n681,0.2,0.2,0,0,-0.2,-0.2\n683,0,0,0.2,0.2,0.3,0.3\n685,-0.1,-0.1,-0.2,-0.2,0.1,0.1\n687,0.1,0.1,0.1,0.1,-0.1,-0.1\n689,-0.2,-0.2,0.3,0.3,0,0\n691,0.2,0.2,-0.3,-0.3,0.2,0.2\n693,-0.1,-0.1,0.2,0.2,-0.3,-0.3\n695,0,0,-0.1,-0.1,0.2,0.2\n697,-0.2,-0.2,0,0,0,0\n699,0.1,0.1,0.3,0.3,0.1,0.1\n701,0.1,0.1,0.3,0.3,0.3,0.3\n703,-0.1,-0.1,-0.1,-0.1,0,0\n705,0,0,-0.3,-0.3,-0.2,-0.2\n707,0.2,0.2,0.2,0.2,0.2,0.2\n709,-0.2,-0.2,0.1,0.1,-0.3,-0.3\n711,0.1,0.1,-0.2,-0.2,0.1,0.1\n713,0,0,0,0,0.3,0.3\n715,-0.1,-0.1,0.3,0.3,-0.1,-0.1\n717,0.2,0.2,-0.3,-0.3,-0.2,-0.2\n719,-0.1,-0.1,0.1,0.1,0,0\n721,-0.1,-0.1,0,0,-0.2,-0.2\n723,0.2,0.2,0.2,0.2,0.3,0.3\n725,0.1,0.1,-0.2,-0.2,0.1,0.1\n727,-0.2,-0.2,0.1,0.1,-0.1,-0.1\n729,0,0,0.3,0.3,0,0\n731,0.1,0.1,-0.3,-0.3,0.2,0.2\n733,-0.1,-0.1,0.2,0.2,-0.3,-0.3\n735,0.2,0.2,-0.1,-0.1,0.2,0.2\n737,0,0,0,0,0,0\n739,-0.2,-0.2,0.3,0.3,0.1,0.1\n741,0,0,-0.3,-0.3,0.2,0.2\n743,-0.2,-0.2,0.1,0.1,-0.3,-0.3\n745,0.2,0.2,0.3,0.3,0,0\n747,0.1,0.1,-0.1,-0.1,0.3,0.3\n749,-0.1,-0.1,-0.2,-0.2,-0.1,-0.1\n751,0,0,0.2,0.2,0.1,0.1\n753,0.2,0.2,0.3,0.3,-0.2,-0.2\n755,-0.1,-0.1,0,0,0.3,0.3\n757,0.1,0.1,-0.3,-0.3,0.1,0.1\n759,0,0,0.2,0.2,-0.3,-0.3\n761,0.2,0.2,-0.2,-0.2,-0.1,-0.1\n763,0,0,0.3,0.3,0.1,0.1\n765,-0.1,-0.1,0.1,0.1,0.3,0.3\n767,0.1,0.1,-0.3,-0.3,-0.2,-0.2\n769,-0.2,-0.2,0,0,0.2,0.2\n771,0.2,0.2,0.2,0.2,-0.3,-0.3\n773,-0.1,-0.1,-0.1,-0.1,0,0\n775,0,0,0.3,0.3,0.1,0.1\n777,-0.2,-0.2,-0.2,-0.2,0.3,0.3\n779,0.1,0.1,0.1,0.1,-0.2,-0.2\n781,0.1,0.1,0,0,-0.1,-0.1\n783,-0.1,-0.1,0.2,0.2,0.1,0.1\n785,0,0,-0.2,-0.2,0.3,0.3\n787,0.2,0.2,0.1,0.1,-0.2,-0.2\n789,-0.2,-0.2,0.3,0.3,0.2,0.2\n791,0.1,0.1,-0.3,-0.3,-0.3,-0.3\n793,0,0,0.2,0.2,0,0\n795,-0.1,-0.1,-0.1,-0.1,0.1,0.1\n797,0.2,0.2,0,0,0.3,0.3\n799,-0.1,-0.1,0.3,0.3,-0.2,-0.2\n801,-0.1,-0.1,-0.3,-0.3,0.3,0.3\n803,0.2,0.2,0.1,0.1,0,0\n805,0.1,0.1,0.3,0.3,-0.2,-0.2\n807,-0.2,-0.2,-0.1,-0.1,0.2,0.2\n809,0,0,-0.2,-0.2,-0.3,-0.3\n811,0.1,0.1,0.2,0.2,0.1,0.1\n813,-0.1,-0.1,0.3,0.3,0.3,0.3\n815,0.2,0.2,0,0,-0.1,-0.1\n817,0,0,-0.3,-0.3,-0.2,-0.2\n819,-0.2,-0.2,0.2,0.2,0,0\n821,0,0,-0.2,-0.2,-0.2,-0.2\n823,-0.2,-0.2,0.3,0.3,0.3,0.3\n825,0.2,0.2,0.1,0.1,0.1,0.1\n827,0.1,0.1,-0.3,-0.3,-0.1,-0.1\n829,-0.1,-0.1,0,0,0,0\n831,0,0,0.2,0.2,0.2,0.2\n833,0.2,0.2,-0.1,-0.1,-0.3,-0.3\n835,-0.1,-0.1,0.3,0.3,0.2,0.2\n837,0.1,0.1,-0.2,-0.2,0,0\n839,0,0,0.1,0.1,0.1,0.1\n841,0.2,0.2,0.3,0.3,0.2,0.2\n843,0,0,-0.1,-0.1,-0.3,-0.3\n845,-0.1,-0.1,-0.3,-0.3,0,0\n847,0.1,0.1,0.2,0.2,0.3,0.3\n849,-0.2,-0.2,0.1,0.1,-0.1,-0.1\n851,0.2,0.2,-0.2,-0.2,0.1,0.1\n853,-0.1,-0.1,0,0,-0.2,-0.2\n855,0,0,0.3,0.3,0.3,0.3\n857,-0.2,-0.2,-0.3,-0.3,0.1,0.1\n859,0.1,0.1,0.1,0.1,-0.3,-0.3\n861,0.1,0.1,-0.3,-0.3,0.2,0.2\n863,-0.1,-0.1,0.1,0.1,-0.3,-0.3\n865,0,0,0.3,0.3,0,0\n867,0.2,0.2,-0.1,-0.1,0.3,0.3\n869,-0.2,-0.2,-0.2,-0.2,-0.1,-0.1\n871,0.1,0.1,0.2,0.2,0.1,0.1\n873,0,0,0.3,0.3,-0.2,-0.2\n875,-0.1,-0.1,0,0,0.3,0.3\n877,0.2,0.2,-0.3,-0.3,0.1,0.1\n879,-0.1,-0.1,0.2,0.2,-0.3,-0.3\n881,-0.1,-0.1,-0.2,-0.2,-0.1,-0.1\n883,0.2,0.2,0.3,0.3,0.1,0.1\n885,0.1,0.1,0.1,0.1,0.3,0.3\n887,-0.2,-0.2,-0.3,-0.3,-0.2,-0.2\n889,0,0,0,0,0.2,0.2\n891,0.1,0.1,0.2,0.2,-0.3,-0.3\n893,-0.1,-0.1,-0.1,-0.1,0,0\n895,0.2,0.2,0.3,0.3,0.1,0.1\n897,0,0,-0.2,-0.2,0.3,0.3\n899,-0.2,-0.2,0.1,0.1,-0.2,-0.2\n901,0,0,0.3,0.3,0.3,0.3\n903,-0.2,-0.2,-0.1,-0.1,0,0\n905,0.2,0.2,-0.3,-0.3,-0.2,-0.2\n907,0.1,0.1,0.2,0.2,0.2,0.2\n909,-0.1,-0.1,0.1,0.1,-0.3,-0.3\n911,0,0,-0.2,-0.2,0.1,0.1\n913,0.2,0.2,0,0,0.3,0.3\n915,-0.1,-0.1,0.3,0.3,-0.1,-0.1\n917,0.1,0.1,-0.3,-0.3,-0.2,-0.2\n919,0,0,0.1,0.1,0,0\n921,0.2,0.2,0,0,-0.2,-0.2\n923,0,0,0.2,0.2,0.3,0.3\n925,-0.1,-0.1,-0.2,-0.2,0.1,0.1\n927,0.1,0.1,0.1,0.1,-0.1,-0.1\n929,-0.2,-0.2,0.3,0.3,0,0\n931,0.2,0.2,-0.3,-0.3,0.2,0.2\n933,-0.1,-0.1,0.2,0.2,-0.3,-0.3\n935,0,0,-0.1,-0.1,0.2,0.2\n937,-0.2,-0.2,0,0,0,0\n939,0.1,0.1,0.3,0.3,0.1,0.1\n941,0.1,0.1,0.3,0.3,0.3,0.3\n943,-0.1,-0.1,-0.1,-0.1,0,0\n945,0,0,-0.3,-0.3,-0.2,-0.2\n947,0.2,0.2,0.2,0.2,0.2,0.2\n949,-0.2,-0.2,0.1,0.1,-0.3,-0.3\n951,0.1,0.1,-0.2,-0.2,0.1,0.1\n953,0,0,0,0,0.3,0.3\n955,-0.1,-0.1,0.3,0.3,-0.1,-0.1\n957,0.2,0.2,-0.3,-0.3,-0.2,-0.2\n959,-0.1,-0.1,0.1,0.1,0,0\n961,-0.1,-0.1,0,0,-0.2,-0.2\n963,0.2,0.2,0.2,0.2,0.3,0.3\n965,0.1,0.1,-0.2,-0.2,0.1,0.1\n967,-0.2,-0.2,0.1,0.1,-0.1,-0.1\n969,0,0,0.3,0.3,0,0\n971,0.1,0.1,-0.3,-0.3,0.2,0.2\n973,-0.1,-0.1,0.2,0.2,-0.3,-0.3\n975,0.2,0.2,-0.1,-0.1,0.2,0.2\n977,0,0,0,0,0,0\n979,-0.2,-0.2,0.3,0.3,0.1,0.1\n981,0,0,-0.3,-0.3,0.2,0.2\n983,-0.2,-0.2,0.1,0.1,-0.3,-0.3\n985,0.2,0.2,0.3,0.3,0,0\n987,0.1,0.1,-0.1,-0.1,0.3,0.3\n989,-0.1,-0.1,-0.2,-0.2,-0.1,-0.1\n991,0,0,0.2,0.2,0.1,0.1\n993,0.2,0.2,0.3,0.3,-0.2,-0.2\n995,-0.1,-0.1,0,0,0.3,0.3\n997,0.1,0.1,-0.3,-0.3,0.1,0.1\n999,0,0,0.2,0.2,-0.3,-0.3"},
"vconcat":[
{"width":658,"height":137,
 "layer":[
  {"mark":{"type":"point","shape":"circle","filled":true,"opacity":1,"strokeWidth":0},
   "encoding":{
    "x":{"field":"x","type":"quantitative","scale":{"domain":[0,1000],"nice":false},"axis":{"orient":"bottom","format":"d","values":[0,100,200,300,400,500,600,700,800,900,1000]}},
    "y":{"field":"s1","type":"quantitative","scale":{"domain":[-10,10],"nice":false},"axis":{"orient":"left","format":"d","values":[-10,0,10]}},
    "fill":{"datum":"DCT coefficients of three speech signals","type":"nominal","scale":{"domain":["DCT coefficients of three speech signals","Recovery of the DCT coefficients"],"range":["#0000ff","rgba(255,255,255,0)"]},"legend":{"orient":"none","legendX":106,"legendY":-41,"title":null}},
    "stroke":{"datum":"DCT coefficients of three speech signals","type":"nominal","scale":{"domain":["DCT coefficients of three speech signals","Recovery of the DCT coefficients"],"range":["#0000ff","#ff0000"]},"legend":{"orient":"none","legendX":106,"legendY":-41,"title":null}},
    "size":{"datum":"DCT coefficients of three speech signals","type":"ordinal","scale":{"domain":["DCT coefficients of three speech signals","Recovery of the DCT coefficients"],"range":[34,95]},"legend":{"orient":"none","legendX":106,"legendY":-41,"title":null}}
   }},
  {"mark":{"type":"point","shape":"circle","filled":true,"opacity":1,"strokeWidth":1},
   "encoding":{
    "x":{"field":"x","type":"quantitative","axis":{"orient":"top","labels":false,"values":[0,100,200,300,400,500,600,700,800,900,1000]}},
    "y":{"field":"r1","type":"quantitative","axis":{"orient":"right","labels":false,"values":[-10,0,10]}},
    "fill":{"datum":"Recovery of the DCT coefficients","type":"nominal"},
    "stroke":{"datum":"Recovery of the DCT coefficients","type":"nominal"},
    "size":{"datum":"Recovery of the DCT coefficients","type":"ordinal"}
   }}
 ],
 "resolve":{"axis":{"x":"independent","y":"independent"}}
},
{"width":658,"height":137,
 "layer":[
  {"mark":{"type":"point","shape":"circle","filled":true,"color":"#0000ff","size":34,"opacity":1,"strokeWidth":0},
   "encoding":{
    "x":{"field":"x","type":"quantitative","scale":{"domain":[0,1000],"nice":false},"axis":{"orient":"bottom","format":"d","values":[0,100,200,300,400,500,600,700,800,900,1000]}},
    "y":{"field":"s2","type":"quantitative","scale":{"domain":[-20,10],"nice":false},"axis":{"orient":"left","format":"d","values":[-20,-10,0,10]}}
   }},
  {"mark":{"type":"point","shape":"circle","filled":false,"color":"#ff0000","size":95,"opacity":1,"strokeWidth":1},
   "encoding":{
    "x":{"field":"x","type":"quantitative","axis":{"orient":"top","labels":false,"values":[0,100,200,300,400,500,600,700,800,900,1000]}},
    "y":{"field":"r2","type":"quantitative","axis":{"orient":"right","labels":false,"values":[-20,-10,0,10]}}
   }}
 ],
 "resolve":{"axis":{"x":"independent","y":"independent"}}
},
{"width":658,"height":137,
 "layer":[
  {"mark":{"type":"point","shape":"circle","filled":true,"color":"#0000ff","size":34,"opacity":1,"strokeWidth":0},
   "encoding":{
    "x":{"field":"x","type":"quantitative","scale":{"domain":[0,1000],"nice":false},"axis":{"orient":"bottom","format":"d","values":[0,100,200,300,400,500,600,700,800,900,1000]}},
    "y":{"field":"s3","type":"quantitative","scale":{"domain":[-10,20],"nice":false},"axis":{"orient":"left","format":"d","values":[-10,0,10,20]}}
   }},
  {"mark":{"type":"point","shape":"circle","filled":false,"color":"#ff0000","size":95,"opacity":1,"strokeWidth":1},
   "encoding":{
    "x":{"field":"x","type":"quantitative","axis":{"orient":"top","labels":false,"values":[0,100,200,300,400,500,600,700,800,900,1000]}},
    "y":{"field":"r3","type":"quantitative","axis":{"orient":"right","labels":false,"values":[-10,0,10,20]}}
   }}
 ],
 "resolve":{"axis":{"x":"independent","y":"independent"}}
}
],
"config":{
 "view":{"stroke":"#1a1a1a","strokeWidth":1},
 "axis":{"title":null,"grid":false,"domain":false,"labelFont":"Liberation Sans","labelFontSize":18,"labelColor":"#000","tickColor":"#1a1a1a","tickSize":-6,"tickWidth":1,"labelFlush":false,"labelOverlap":false},
 "axisX":{"labelPadding":16},
 "axisY":{"labelPadding":12},
 "legend":{"fillColor":"white","strokeColor":"#333","padding":9,"rowPadding":7,"symbolOffset":26,"labelOffset":27,"labelLimit":0,"labelFont":"Liberation Sans","labelFontSize":19.5,"labelColor":"#000","symbolStrokeWidth":1,"symbolOpacity":1,"cornerRadius":0,"symbolType":"circle"}
}
}
